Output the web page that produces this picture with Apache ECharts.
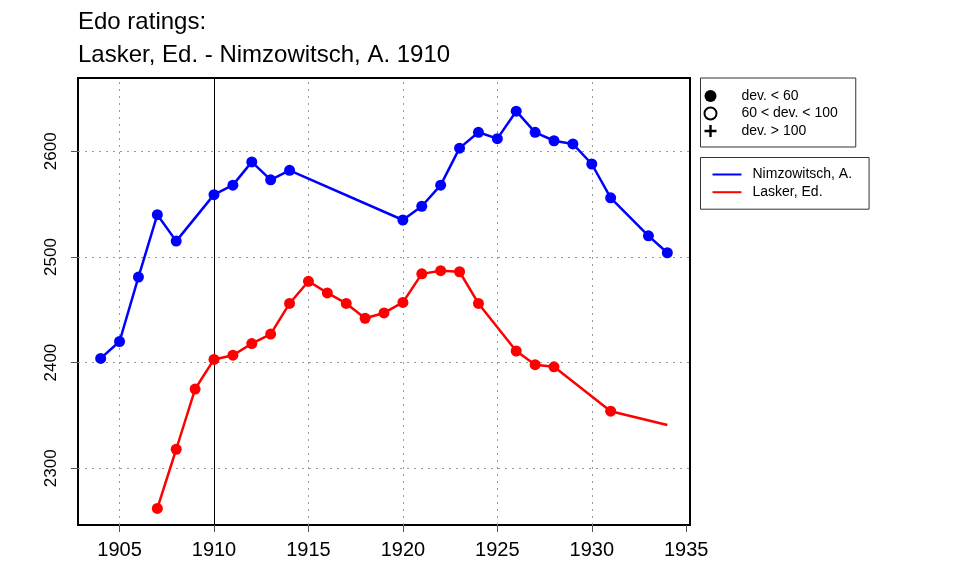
<!DOCTYPE html>
<html>
<head>
<meta charset="utf-8">
<script src="https://cdn.jsdelivr.net/npm/echarts@6/dist/echarts.min.js"></script>
<style>html,body{margin:0;padding:0;background:#fff;}#c{width:960px;height:576px;}</style>
</head>
<body>
<div id="c"></div>
<script>
const titleLines = ['Edo ratings:', 'Lasker, Ed. - Nimzowitsch, A. 1910'];
const nimzName = 'Nimzowitsch, A.';
const laskerName = 'Lasker, Ed.';
const nimzYears = [1904,1905,1906,1907,1908,1910,1911,1912,1913,1914,1920,1921,1922,1923,1924,1925,1926,1927,1928,1929,1930,1931,1933,1934];
const nimzRatings = [2404,2420,2481,2540,2515,2559,2568,2590,2573,2582,2535,2548,2568,2603,2618,2612,2638,2618,2610,2607,2588,2556,2520,2504];
const laskerYears = [1907,1908,1909,1910,1911,1912,1913,1914,1915,1916,1917,1918,1919,1920,1921,1922,1923,1924,1926,1927,1928,1931,1934];
const laskerRatings = [2262,2318,2375,2403,2407,2418,2427,2456,2477,2466,2456,2442,2447,2457,2484,2487,2486,2456,2411,2398,2396,2354,2341];
const laskerNoMarkerYears = [1934];
const xTicks = [1905,1910,1915,1920,1925,1930,1935];
const xGrid = [1905,1910,1915,1920,1925,1930];
const yTicks = [2300,2400,2500,2600];
const highlightYear = 1910;
const devLabels = ['dev. < 60', '60 < dev. < 100', 'dev. > 100'];

const FONT = 'Liberation Sans, Arial, Helvetica, sans-serif';
const chart = echarts.init(document.getElementById('c'), null, {renderer: 'canvas'});

const nimzData = nimzYears.map((y, i) => [y, nimzRatings[i]]);
const laskerData = laskerYears.map((y, i) => laskerNoMarkerYears.includes(y)
  ? {value: [y, laskerRatings[i]], symbol: 'none'}
  : [y, laskerRatings[i]]);

const gridLines = xGrid.map(v => ({xAxis: v})).concat(yTicks.map(v => ({yAxis: v})));

const plusPath = 'path://M4,0 H6 V4 H10 V6 H6 V10 H4 V6 H0 V4 H4 Z';
const linePath = 'path://M0,0 H29 V2 H0 Z';

chart.setOption({
  animation: false,
  backgroundColor: '#fff',
  title: {
    text: titleLines.join('\n'),
    left: 78, top: 6, padding: 0,
    textStyle: {fontFamily: FONT, fontSize: 24, fontWeight: 'normal', color: '#000', lineHeight: 33}
  },
  grid: {
    left: 78, top: 78, width: 612, height: 447,
    show: true, borderColor: '#000', borderWidth: 2, backgroundColor: 'transparent'
  },
  legend: [
    {
      data: [
        {name: devLabels[0], icon: 'circle', itemStyle: {color: '#000', borderWidth: 0}},
        {name: devLabels[1], icon: 'circle', itemStyle: {color: '#fff', borderColor: '#000', borderWidth: 2}},
        {name: devLabels[2], icon: plusPath, itemStyle: {color: '#000', borderWidth: 0}}
      ],
      orient: 'vertical', left: 700.5, top: 78,
      padding: [11, 18, 9, 3],
      itemWidth: 24, itemHeight: 12, itemGap: 3.5,
      selectedMode: false,
      borderColor: '#333', borderWidth: 1, backgroundColor: '#fff',
      textStyle: {fontFamily: FONT, fontSize: 14, color: '#000', padding: [0, 0, 0, 14]}
    },
    {
      data: [
        {name: nimzName, icon: linePath, itemStyle: {color: '#0000ff', borderWidth: 0}},
        {name: laskerName, icon: linePath, itemStyle: {color: '#ff0000', borderWidth: 0}}
      ],
      orient: 'vertical', left: 700.5, top: 157.5,
      padding: [10, 17, 10, 12],
      itemWidth: 29, itemHeight: 12, itemGap: 3.7,
      selectedMode: false,
      borderColor: '#333', borderWidth: 1, backgroundColor: '#fff',
      textStyle: {fontFamily: FONT, fontSize: 14, color: '#000', padding: [0, 0, 0, 6]}
    }
  ],
  xAxis: {
    type: 'value', min: 1902.8, max: 1935.2,
    axisLine: {show: false},
    axisTick: {show: true, customValues: xTicks, length: 7, lineStyle: {color: '#555', width: 1}},
    axisLabel: {customValues: xTicks, formatter: v => String(v), fontFamily: FONT, fontSize: 20, color: '#000', margin: 15},
    splitLine: {show: false}
  },
  yAxis: {
    type: 'value', min: 2246.3, max: 2669.4,
    axisLine: {show: false},
    axisTick: {show: true, customValues: yTicks, length: 7, lineStyle: {color: '#555', width: 1}},
    axisLabel: {customValues: yTicks, formatter: v => String(v), fontFamily: FONT, fontSize: 17, color: '#000', margin: 18, rotate: 90},
    splitLine: {show: false}
  },
  series: [
    {
      name: 'grid', type: 'line', data: [], z: 1, silent: true,
      markLine: {
        z: 1, silent: true, symbol: 'none', label: {show: false}, animation: false,
        lineStyle: {color: '#999', type: [2, 5], width: 1},
        emphasis: {disabled: true},
        data: gridLines
      }
    },
    {
      name: 'marker', type: 'line', data: [], z: 1, silent: true,
      markLine: {
        z: 1, silent: true, symbol: 'none', label: {show: false}, animation: false,
        lineStyle: {color: '#000', type: 'solid', width: 1},
        emphasis: {disabled: true},
        data: [{xAxis: highlightYear}]
      }
    },
    {name: devLabels[0], type: 'line', data: []},
    {name: devLabels[1], type: 'line', data: []},
    {name: devLabels[2], type: 'line', data: []},
    {
      name: nimzName, type: 'line', data: nimzData, z: 3,
      symbol: 'circle', symbolSize: 11, showSymbol: true,
      lineStyle: {color: '#0000ff', width: 2.5},
      itemStyle: {color: '#0000ff', borderWidth: 0}
    },
    {
      name: laskerName, type: 'line', data: laskerData, z: 3,
      symbol: 'circle', symbolSize: 11, showSymbol: true,
      lineStyle: {color: '#ff0000', width: 2.5},
      itemStyle: {color: '#ff0000', borderWidth: 0}
    }
  ]
});
</script>
</body>
</html>
